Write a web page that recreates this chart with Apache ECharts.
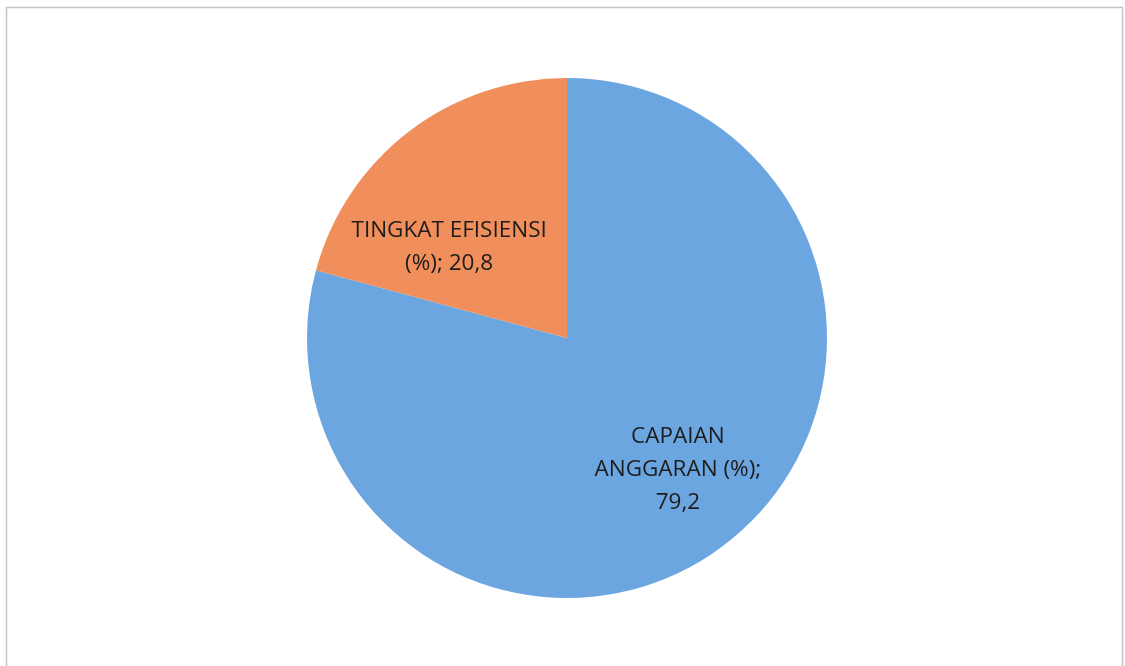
<!DOCTYPE html>
<html>
<head>
<meta charset="utf-8">
<script src="https://cdn.jsdelivr.net/npm/echarts@6/dist/echarts.min.js"></script>
<style>
  html, body { margin: 0; padding: 0; background: #fff; }
  #myChart { width: 1125px; height: 666px; }
</style>
</head>
<body>
<div id="myChart"></div>
<script>
var categories = ['CAPAIAN\nANGGARAN (%)', 'TINGKAT EFISIENSI\n(%)'];
var values = [79.2, 20.8];
var valueSep = [';\n', '; '];
var colors = ['#6CA6E1', '#F08F5B'];
var labelOffsets = [[30, 26], [-37, 15]];

var myChart = echarts.init(document.getElementById('myChart'));

var pieData = categories.map(function (name, i) {
    return {
        value: values[i],
        name: name,
        itemStyle: { color: colors[i] },
        label: { offset: labelOffsets[i] }
    };
});

option = {
    animation: false,
    graphic: [{
        type: 'rect',
        shape: { x: 6.5, y: 7.5, width: 1116, height: 700 },
        style: { fill: 'none', stroke: '#c4c4c8', lineWidth: 1.5 },
        silent: true
    }],
    series: [
        {
            type: 'pie',
            radius: 260,
            center: [567, 338],
            startAngle: 90,
            clockwise: true,
            data: pieData,
            label: {
                show: true,
                position: 'inside',
                fontFamily: 'Open Sans',
                fontSize: 22.5,
                lineHeight: 33,
                color: '#1c1c1c',
                align: 'center',
                formatter: function (p) {
                    return p.name + valueSep[p.dataIndex] + String(p.value).replace('.', ',');
                }
            },
            labelLine: { show: false },
            itemStyle: { borderWidth: 0 },
            emphasis: { disabled: true }
        }
    ]
};

myChart.setOption(option);
</script>
</body>
</html>
